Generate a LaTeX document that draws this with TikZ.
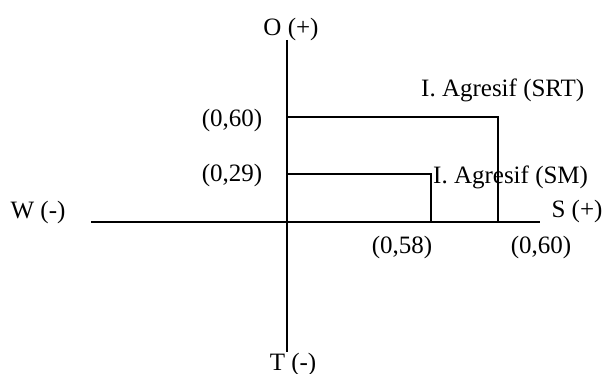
\documentclass[tikz,border=0pt]{standalone}
\usepackage{fontspec}
\setmainfont{Liberation Serif}
\usepackage{tikz}
\usetikzlibrary{positioning}

\tikzset{
    axisline/.style={line width=1.4pt},
    lbl/.style={inner sep=0pt, font=\fontsize{25}{28}\selectfont}
}

\begin{document}
\begin{tikzpicture}[x=1pt, y=-1pt]
    \useasboundingbox (0,0) rectangle (605,374);
    % --- axes ---
    \coordinate (top) at (287,40);
    \coordinate (bot) at (287,352);
    \coordinate (lft) at (91,222);
    \coordinate (rgt) at (540,222);
    \draw[axisline] (top) -- (bot);
    \draw[axisline] (lft) -- (rgt);
    \node[lbl] (O) at (291,29) {O (+)};
    \node[lbl] (T) at (293,364) {T (-)};
    \node[lbl] (W) at (38,212) {W (-)};
    \node[lbl] (S) at (577,211) {S (+)};
    % --- SRT ---
    \coordinate (srtA) at (287,117);
    \coordinate (srtB) at (498,117);
    \coordinate (srtC) at (498,222);
    \draw[axisline] (srtA) -- (srtB) -- (srtC);
    \node[lbl] (y60) at (232,120) {(0,60)};
    \node[lbl] (x60) at (541,247) {(0,60)};
    \node[lbl, anchor=west] (srt) at (421,90) {I. Agresif (SRT)};
    % --- SM ---
    \coordinate (smA) at (287,174);
    \coordinate (smB) at (431,174);
    \coordinate (smC) at (431,222);
    \draw[axisline] (smA) -- (smB) -- (smC);
    \node[lbl] (y29) at (232,175) {(0,29)};
    \node[lbl] (x58) at (402,247) {(0,58)};
    \node[lbl, anchor=west] (sm) at (433,177) {I. Agresif (SM)};
\end{tikzpicture}
\end{document}
